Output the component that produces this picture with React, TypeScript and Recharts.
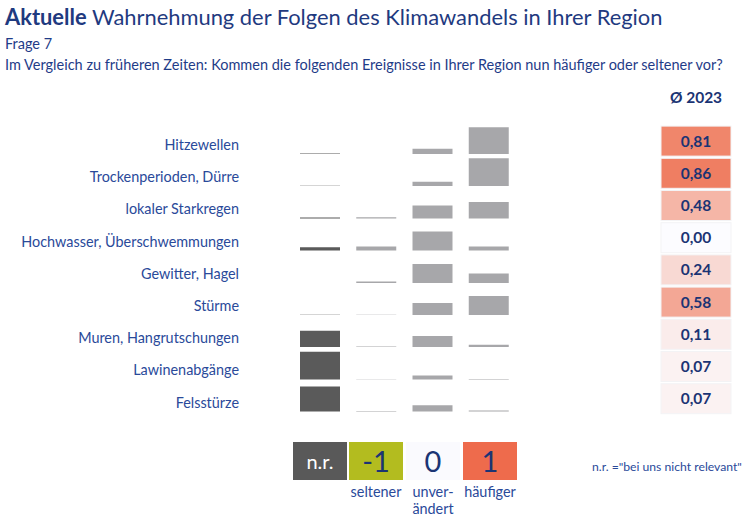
import React from 'react';
import { BarChart, Bar, XAxis, YAxis, Cell, ScatterChart, Scatter } from 'recharts';

// Zeilen (Ereignisse)
const categories = [
  'Hitzewellen',
  'Trockenperioden, Dürre',
  'lokaler Starkregen',
  'Hochwasser, Überschwemmungen',
  'Gewitter, Hagel',
  'Stürme',
  'Muren, Hangrutschungen',
  'Lawinenabgänge',
  'Felsstürze',
];

// Antwortkategorien
const answerKeys = ['n.r.', '-1', '0', '1'];

// Anteile in % (aus der Grafik geschätzt)
const shareNr = [3, 2, 3, 10, 0, 2, 50, 83, 75];
const shareSeltener = [1, 0, 4, 12, 6, 2, 3, 1, 1.5];
const shareUnveraendert = [17, 14, 39, 57, 58, 37, 34, 12, 19];
const shareHaeufiger = [81, 84, 49, 12, 30, 58, 8, 1.5, 3];

// Mittelwert 2023 (-1 .. 1)
const avg2023 = [0.81, 0.86, 0.48, 0.0, 0.24, 0.58, 0.11, 0.07, 0.07];

const shares = [shareNr, shareSeltener, shareUnveraendert, shareHaeufiger];

const NAVY = '#1F3C88';
const DARK_NAVY = '#1B3474';
const LABEL = '#2A4A9A';
const FONT = 'Lato, "Open Sans", sans-serif';

const ROW_CENTER0 = 141;
const ROW_STEP = 32.2;
const BAR_AREA_H = 33.5;

// Farbskala weiß -> orange
function heat(v: number) {
  const t = Math.max(0, Math.min(1, v));
  const from = [252, 252, 255];
  const to = [237, 106, 72];
  const c = from.map((f, i) => Math.round(f + (to[i] - f) * t));
  return `rgb(${c[0]},${c[1]},${c[2]})`;
}

function RowBars({ index }: { index: number }) {
  const data = answerKeys.map((k, j) => ({ key: k, value: shares[j][index] }));
  const top = ROW_CENTER0 + 13.2 + index * ROW_STEP - BAR_AREA_H;
  return (
    <div style={{ position: 'absolute', left: 292, top }}>
      <BarChart width={225} height={BAR_AREA_H} data={data} margin={{ top: 0, right: 0, bottom: 0, left: 0 }}>
        <XAxis dataKey="key" hide />
        <YAxis type="number" hide domain={[0, 100]} />
        <Bar dataKey="value" barSize={40} isAnimationActive={false}>
          {data.map((_, j) => (
            <Cell key={j} fill={j === 0 ? '#5A5A5A' : '#A7A7AA'} />
          ))}
        </Bar>
      </BarChart>
    </div>
  );
}

const AvgCell = (props: any) => {
  const { cx, cy, payload } = props;
  if (cx == null || cy == null) return null;
  return (
    <g>
      <rect x={cx - 35} y={cy - 15} width={70} height={30} fill={heat(payload.value)} stroke="#F3F3F5" strokeWidth={1} />
      <text x={cx} y={cy} dy="0.36em" textAnchor="middle" fontFamily={FONT} fontWeight={700} fontSize={15.5} fill={DARK_NAVY}>
        {payload.value.toFixed(2).replace('.', ',')}
      </text>
    </g>
  );
};

export default function App() {
  const avgData = categories.map((c, i) => ({ col: 'Ø 2023', row: c, value: avg2023[i] }));
  const axisTop = 40;

  const legendBoxes = [
    { label: 'n.r.', bg: '#595959', color: '#FFFFFF', size: 20, x: 293 },
    { label: '-1', bg: '#B3BC1F', color: DARK_NAVY, size: 29, x: 349 },
    { label: '0', bg: '#FAFAFE', color: DARK_NAVY, size: 29, x: 406 },
    { label: '1', bg: '#EE6B4C', color: DARK_NAVY, size: 29, x: 463 },
  ];

  return (
    <div
      style={{
        position: 'absolute',
        left: 0,
        top: 0,
        width: 744,
        height: 518,
        background: '#FFFFFF',
        fontFamily: FONT,
        color: NAVY,
        overflow: 'hidden',
      }}
    >
      {/* Titel */}
      <div style={{ position: 'absolute', left: 5, top: 3, fontSize: 21.9, color: '#1F3A80', whiteSpace: 'nowrap' }}>
        <b>Aktuelle</b> Wahrnehmung der Folgen des Klimawandels in Ihrer Region
      </div>
      <div style={{ position: 'absolute', left: 5, top: 35, fontSize: 14.5, whiteSpace: 'nowrap' }}>Frage 7</div>
      <div style={{ position: 'absolute', left: 5, top: 56, fontSize: 14.5, whiteSpace: 'nowrap' }}>
        Im Vergleich zu früheren Zeiten: Kommen die folgenden Ereignisse in Ihrer Region nun häufiger oder seltener vor?
      </div>

      {/* Zeilenbeschriftung */}
      {categories.map((c, i) => (
        <div
          key={c}
          style={{
            position: 'absolute',
            right: 744 - 239,
            top: ROW_CENTER0 + 4 + i * ROW_STEP - 9,
            height: 18,
            lineHeight: '18px',
            fontSize: 14.4,
            color: LABEL,
            whiteSpace: 'nowrap',
          }}
        >
          {c}
        </div>
      ))}

      {/* Balken je Zeile */}
      {categories.map((c, i) => (
        <RowBars key={c} index={i} />
      ))}

      {/* Mittelwert-Spalte */}
      <div style={{ position: 'absolute', left: 649, top: ROW_CENTER0 - ROW_STEP / 2 - axisTop }}>
        <ScatterChart
          width={94}
          height={axisTop + ROW_STEP * categories.length}
          margin={{ top: 0, right: 0, bottom: 0, left: 0 }}
        >
          <XAxis
            type="category"
            dataKey="col"
            orientation="top"
            allowDuplicatedCategory={false}
            axisLine={false}
            tickLine={false}
            height={axisTop}
            tickMargin={16}
            tick={{ fontSize: 15.5, fontWeight: 700, fill: DARK_NAVY, fontFamily: FONT }}
          />
          <YAxis type="category" dataKey="row" hide reversed />
          <Scatter data={avgData} shape={<AvgCell />} isAnimationActive={false} />
        </ScatterChart>
      </div>

      {/* Legende */}
      {legendBoxes.map((b) => (
        <div
          key={b.label}
          style={{
            position: 'absolute',
            left: b.x,
            top: 442,
            width: 54,
            height: 38,
            background: b.bg,
            color: b.color,
            fontSize: b.size,
            lineHeight: '38px',
            textAlign: 'center',
          }}
        >
          {b.label}
        </div>
      ))}
      {[
        { text: 'seltener', x: 376, y: 483 },
        { text: 'unver-', x: 433, y: 483 },
        { text: 'ändert', x: 433, y: 500 },
        { text: 'häufiger', x: 490, y: 483 },
      ].map((t) => (
        <div
          key={t.text}
          style={{
            position: 'absolute',
            left: t.x - 40,
            width: 80,
            top: t.y,
            fontSize: 14.4,
            lineHeight: '18px',
            textAlign: 'center',
            color: LABEL,
          }}
        >
          {t.text}
        </div>
      ))}
      <div style={{ position: 'absolute', left: 592, top: 459, fontSize: 12.2, color: LABEL, whiteSpace: 'nowrap' }}>
        n.r. ="bei uns nicht relevant"
      </div>
    </div>
  );
}
